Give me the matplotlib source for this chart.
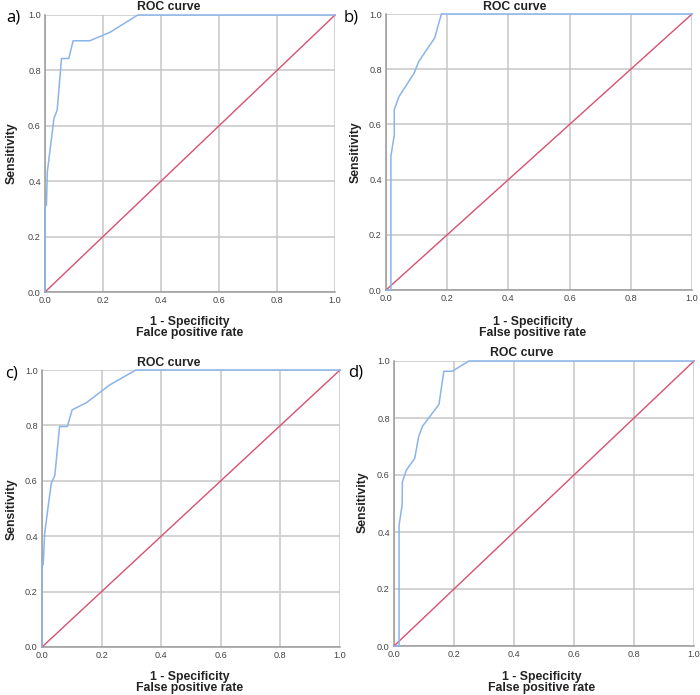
import matplotlib
matplotlib.use("Agg")
import matplotlib.pyplot as plt

plt.rcParams['font.family'] = ['Liberation Sans', 'DejaVu Sans']

# ROC points (1 - specificity, sensitivity)
fpr_a = [0.0, 0.0, 0.005, 0.008, 0.031, 0.042, 0.057, 0.082, 0.097, 0.154, 0.223, 0.32, 1.0]
tpr_a = [0.0, 0.31, 0.313, 0.434, 0.627, 0.657, 0.843, 0.843, 0.907, 0.907, 0.937, 1.0, 1.0]

fpr_b = [0.0, 0.016, 0.016, 0.027, 0.027, 0.042, 0.092, 0.107, 0.159, 0.181, 1.0]
tpr_b = [0.0, 0.0, 0.484, 0.562, 0.653, 0.70, 0.786, 0.828, 0.913, 1.0, 1.0]

fpr_c = [0.0, 0.0, 0.004, 0.009, 0.031, 0.043, 0.059, 0.085, 0.101, 0.149, 0.227, 0.315, 1.0]
tpr_c = [0.0, 0.297, 0.297, 0.411, 0.591, 0.619, 0.796, 0.796, 0.856, 0.882, 0.946, 1.0, 1.0]

fpr_d = [0.0, 0.017, 0.017, 0.027, 0.028, 0.041, 0.069, 0.082, 0.095, 0.150, 0.166, 0.194, 0.25, 1.0]
tpr_d = [0.0, 0.0, 0.424, 0.494, 0.576, 0.617, 0.658, 0.734, 0.771, 0.848, 0.964, 0.964, 1.0, 1.0]

ticks = [0.0, 0.2, 0.4, 0.6, 0.8, 1.0]
tick_labels = ['0.0', '0.2', '0.4', '0.6', '0.8', '1.0']

W, H = 700, 695

# panel boxes in pixels: left, right, top, bottom
panels = [
    dict(box=(45, 335, 15, 292), fpr=fpr_a, tpr=tpr_a, tag='a)', tag_xy=(13, 17),
         title_xy=(169, 7), ylab_xy=(12, 153), xlab_x=190, xlab_y=(322, 333),
         xlab2='Falce positive rate'),
    dict(box=(386, 692, 14, 290), fpr=fpr_b, tpr=tpr_b, tag='b)', tag_xy=(351, 17),
         title_xy=(515, 7), ylab_xy=(356, 152), xlab_x=533, xlab_y=(322, 333),
         xlab2='False positive rate'),
    dict(box=(42, 340, 370, 647), fpr=fpr_c, tpr=tpr_c, tag='c)', tag_xy=(12, 374),
         title_xy=(169, 363), ylab_xy=(12, 509), xlab_x=190, xlab_y=(677, 688),
         xlab2='False positive rate'),
    dict(box=(394, 694, 361, 646), fpr=fpr_d, tpr=tpr_d, tag='d)', tag_xy=(356, 373),
         title_xy=(522, 353), ylab_xy=(363, 502), xlab_x=542, xlab_y=(677, 688),
         xlab2='False positive rate'),
]

fig = plt.figure(figsize=(7, 6.95), dpi=100)

for p in panels:
    l, r, t, b = p['box']
    ax = fig.add_axes([l / W, 1 - b / H, (r - l) / W, (b - t) / H])
    ax.set_xlim(0, 1)
    ax.set_ylim(0, 1)
    ax.set_xticks(ticks)
    ax.set_yticks(ticks)
    ax.set_xticklabels(tick_labels)
    ax.set_yticklabels(tick_labels)
    ax.tick_params(length=0, labelsize=6.6, labelcolor='#444444', pad=3)
    ax.grid(True, color='#c6c6c6', linewidth=1.1)
    ax.set_axisbelow(True)
    for s in ['top', 'right']:
        ax.spines[s].set_visible(False)
    for s in ['left', 'bottom']:
        ax.spines[s].set_color('#9a9a9a')
        ax.spines[s].set_linewidth(1.1)
    ax.plot([0, 1], [0, 1], color='#d9506f', linewidth=1.0, clip_on=False, zorder=3)
    ax.plot(p['fpr'], p['tpr'], color='#8ab4ea', linewidth=1.1, clip_on=False, zorder=4)

    fig.text(p['tag_xy'][0] / W, 1 - p['tag_xy'][1] / H, p['tag'], fontsize=12,
             family=['Open Sans', 'DejaVu Sans'], ha='center', va='center')
    fig.text(p['title_xy'][0] / W, 1 - p['title_xy'][1] / H, 'ROC curve', fontsize=8.8,
             fontweight='bold', ha='center', va='center', color='#222222')
    fig.text(p['ylab_xy'][0] / W, 1 - p['ylab_xy'][1] / H, 'Sensitivity', fontsize=8.8,
             fontweight='bold', ha='center', va='center', rotation=90, color='#222222')
    fig.text(p['xlab_x'] / W, 1 - p['xlab_y'][0] / H, '1 - Specificity', fontsize=8.8,
             fontweight='bold', ha='center', va='center', color='#222222')
    fig.text(p['xlab_x'] / W, 1 - p['xlab_y'][1] / H, p['xlab2'], fontsize=8.8,
             fontweight='bold', ha='center', va='center', color='#222222')

fig.savefig('out.png', dpi=100)
